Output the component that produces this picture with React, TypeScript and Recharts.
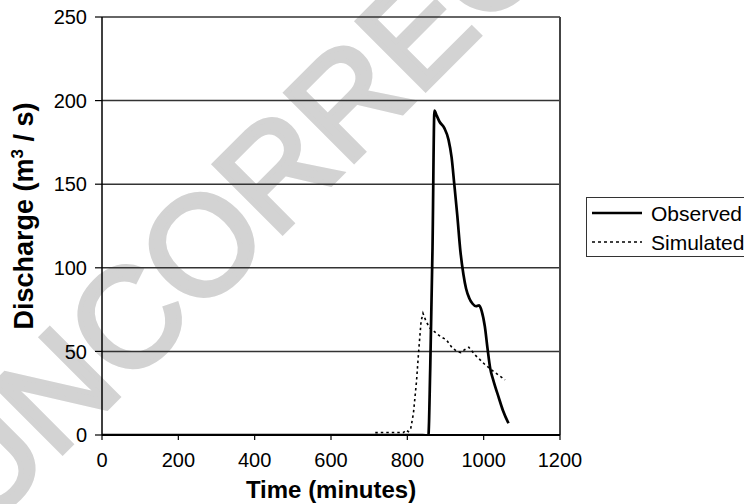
import React from 'react';
import {
  LineChart,
  Line,
  XAxis,
  YAxis,
  CartesianGrid,
  Legend,
  ReferenceLine,
} from 'recharts';

// Observed discharge (time in minutes, discharge in m3/s)
const observedTime = [0, 840, 849, 855, 860, 866, 871, 877, 884, 897, 908, 916, 923, 931, 939, 947, 954, 962, 971, 980, 988, 995, 1003, 1010, 1017, 1025, 1040, 1050, 1065];
const observedValue = [0, 0, -0.3, -0.6, 40, 112, 194, 191, 187.5, 183.5, 176.5, 166, 150, 131, 110, 96, 87.5, 82, 78.5, 77, 77.5, 74, 65, 52, 40, 33, 22, 15, 7];

// Simulated discharge
const simulatedTime = [716, 740, 770, 790, 796, 803, 809, 816, 824, 830, 836, 841, 849, 859, 870, 886, 902, 918, 930, 940, 950, 961, 977, 1004, 1026, 1056];
const simulatedValue = [1.4, 1.5, 1.5, 1.5, 3, 2, 4, 13, 32, 51, 68, 72.8, 68, 64, 62, 59, 57, 52, 50, 49.3, 51, 52.5, 48, 42, 38, 33];

const xTicks = [0, 200, 400, 600, 800, 1000, 1200];
const yTicks = [0, 50, 100, 150, 200, 250];

const observedData = observedTime.map((t, i) => ({ t, v: observedValue[i] }));
const simulatedData = simulatedTime.map((t, i) => ({ t, v: simulatedValue[i] }));

const FONT = '"Liberation Sans", Arial, Helvetica, sans-serif';

const LegendBox = () => (
  <div
    style={{
      width: 170,
      height: 60,
      boxSizing: 'border-box',
      border: '1.5px solid #333',
      background: '#fff',
    }}
  >
    <svg width={170} height={58} style={{ display: 'block' }}>
      <line x1={5} x2={55} y1={15} y2={15} stroke="#000" strokeWidth={2.7} />
      <text x={64} y={15} dy="0.36em" fontSize={21} fontFamily={FONT} fill="#000">
        Observed
      </text>
      <line x1={5} x2={55} y1={44} y2={44} stroke="#000" strokeWidth={1.5} strokeDasharray="3 3" />
      <text x={64} y={44} dy="0.36em" fontSize={21} fontFamily={FONT} fill="#000">
        Simulated
      </text>
    </svg>
  </div>
);

const YTitle = (props: any) => {
  const vb = props.viewBox || {};
  const cy = vb.y + vb.height / 2 - 10;
  const bx = 33;
  return (
    <text
      x={bx}
      y={cy}
      transform={`rotate(-90, ${bx}, ${cy})`}
      textAnchor="middle"
      fontSize={27}
      fontWeight="bold"
      fontFamily={FONT}
      fill="#000"
    >
      <tspan>Discharge (m</tspan>
      <tspan fontSize={17} dy={-10}>3</tspan>
      <tspan dy={10}> / s)</tspan>
    </text>
  );
};

const XTitle = (props: any) => {
  const vb = props.viewBox || {};
  return (
    <text
      x={vb.x + vb.width / 2}
      y={vb.y + vb.height - 6}
      textAnchor="middle"
      fontSize={24}
      fontWeight="bold"
      fontFamily={FONT}
      fill="#000"
    >
      Time (minutes)
    </text>
  );
};

export default function App() {
  return (
    <div
      style={{
        position: 'absolute',
        left: 0,
        top: 0,
        width: 744,
        height: 504,
        overflow: 'hidden',
        background: '#fff',
      }}
    >
      <svg
        width={744}
        height={504}
        style={{ position: 'absolute', left: 0, top: 0, zIndex: 0 }}
      >
        <text
          transform="translate(-17, 532) rotate(-45)"
          fontSize={140}
          fontWeight="normal"
          fontFamily={FONT}
          fill="#d3d3d3"
          stroke="#d3d3d3"
          strokeWidth={5}
          strokeLinejoin="miter"
        >
          UNCORRECTED PROOF
        </text>
      </svg>
      <div style={{ position: 'absolute', left: 0, top: 0, zIndex: 1 }}>
        <LineChart
          width={744}
          height={504}
          margin={{ top: 17, right: 184, bottom: 0, left: 0 }}
        >
          <CartesianGrid horizontal vertical={false} stroke="#333" strokeWidth={1.5} />
          <XAxis
            dataKey="t"
            type="number"
            domain={[0, 1200]}
            ticks={xTicks}
            allowDuplicatedCategory={false}
            height={69}
            tickSize={5}
            tickMargin={13}
            axisLine={{ stroke: '#000', strokeWidth: 2 }}
            tickLine={{ stroke: '#000', strokeWidth: 1.2 }}
            tick={{ fontSize: 20, fill: '#000', fontFamily: FONT }}
            label={<XTitle />}
          />
          <YAxis
            type="number"
            domain={[0, 250]}
            ticks={yTicks}
            allowDataOverflow
            width={102}
            tickSize={7}
            tickMargin={8}
            axisLine={{ stroke: '#000', strokeWidth: 1.5 }}
            tickLine={{ stroke: '#000', strokeWidth: 1.2 }}
            tick={{ fontSize: 20, fill: '#000', fontFamily: FONT }}
            label={<YTitle />}
          />
          <ReferenceLine x={1200} stroke="#444" strokeWidth={2} />
          <Line
            data={observedData}
            dataKey="v"
            name="Observed"
            type="monotone"
            stroke="#000"
            strokeWidth={2.7}
            dot={false}
            activeDot={false}
            isAnimationActive={false}
          />
          <Line
            data={simulatedData}
            dataKey="v"
            name="Simulated"
            type="linear"
            stroke="#000"
            strokeWidth={1.6}
            strokeDasharray="2.5 3"
            dot={false}
            activeDot={false}
            isAnimationActive={false}
          />
          <Legend
            layout="horizontal"
            align="center"
            verticalAlign="middle"
            content={<LegendBox />}
            wrapperStyle={{ left: 586, top: 197, width: 170, height: 60 }}
          />
        </LineChart>
      </div>
    </div>
  );
}
